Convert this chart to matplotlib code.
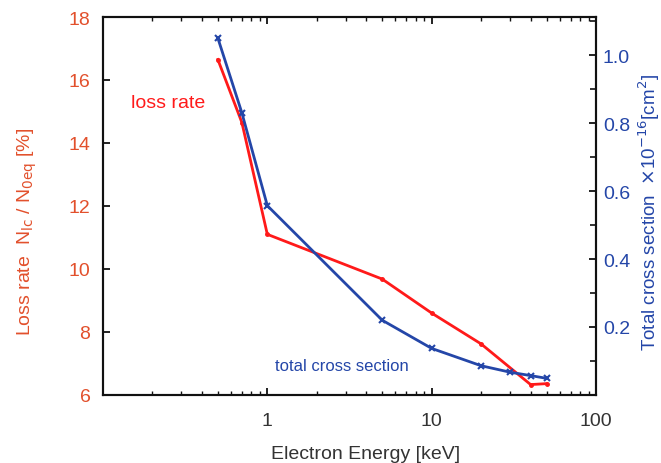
import matplotlib
matplotlib.use("Agg")
import matplotlib.pyplot as plt
from matplotlib.ticker import LogLocator, NullFormatter, FixedLocator, MultipleLocator

plt.rcParams['font.family'] = ['Liberation Sans', 'DejaVu Sans']

energy = [0.5, 0.7, 1, 5, 10, 20, 40, 50]
loss_rate = [16.65, 14.65, 11.1, 9.68, 8.6, 7.62, 6.33, 6.36]
energy_cs = [0.5, 0.7, 1, 5, 10, 20, 30, 40, 50]
cross_section = [1.05, 0.83, 0.557, 0.22, 0.137, 0.086, 0.067, 0.057, 0.049]

RED = '#FF1A1A'
AX_RED = '#E2502C'
BLUE = '#2446A8'
GRAY = '#333333'
FS = 14

fig = plt.figure(figsize=(6.61, 4.64), dpi=100)
ax = fig.add_axes([0.1558, 0.1466, 0.7459, 0.8146])
ax2 = ax.twinx()

ax.plot(energy, loss_rate, color=RED, lw=2, marker='o', ms=2.5, zorder=3)
ax2.plot(energy_cs, cross_section, color=BLUE, lw=2, marker='x', ms=4, mew=1.5, zorder=3)

ax.set_xscale('log')
ax.set_xlim(0.1, 100)
ax.set_ylim(6, 18)
ax2.set_ylim(0, 1.112)

ax.xaxis.set_major_locator(FixedLocator([1, 10, 100]))
ax.set_xticklabels(['1', '10', '100'])
ax.xaxis.set_minor_locator(LogLocator(base=10, subs=range(2, 10)))
ax.xaxis.set_minor_formatter(NullFormatter())
ax.yaxis.set_major_locator(MultipleLocator(2))
ax2.yaxis.set_major_locator(FixedLocator([0.2, 0.4, 0.6, 0.8, 1.0]))
ax2.set_yticklabels(['0.2', '0.4', '0.6', '0.8', '1.0'])
ax2.yaxis.set_minor_locator(MultipleLocator(0.1))

for a in (ax, ax2):
    for s in a.spines.values():
        s.set_linewidth(1.5)
        s.set_color('#111111')

ax.tick_params(axis='x', which='both', direction='in', top=True, labelsize=FS, colors='#111111', labelcolor=GRAY, pad=12)
ax.tick_params(axis='x', which='major', length=5, width=1.3)
ax.tick_params(axis='x', which='minor', length=3, width=1.0)
ax.tick_params(axis='y', which='major', direction='in', length=5, width=1.3, labelsize=FS, labelcolor=AX_RED, colors='#111111', pad=9)
ax2.tick_params(axis='y', which='major', direction='in', length=5, width=1.3, labelsize=FS, labelcolor=BLUE, colors='#111111', pad=5)
ax2.tick_params(axis='y', which='minor', direction='in', length=4, width=1.2, colors='#111111')

ax.set_xlabel('Electron Energy [keV]', fontsize=FS, color=GRAY, labelpad=12)
ax.xaxis.label.set_x(0.533)
ax.set_ylabel(r'Loss rate  N$_{\rm lc}$ / N$_{\rm 0eq}$ [%]', fontsize=FS, color=AX_RED, labelpad=21)
ax.yaxis.label.set_y(0.434)
ax2.set_ylabel(r'Total cross section  $\times$10$^{-16}$[cm$^2$]', fontsize=13.5, color=BLUE)
ax2.yaxis.set_label_coords(1.083, 0.484)

ax.text(0.057, 0.775, 'loss rate', transform=ax.transAxes, color=RED, fontsize=FS, va='center')
ax.text(0.349, 0.077, 'total cross section', transform=ax.transAxes, color=BLUE, fontsize=12, va='center')

fig.savefig('out.png', dpi=100)
